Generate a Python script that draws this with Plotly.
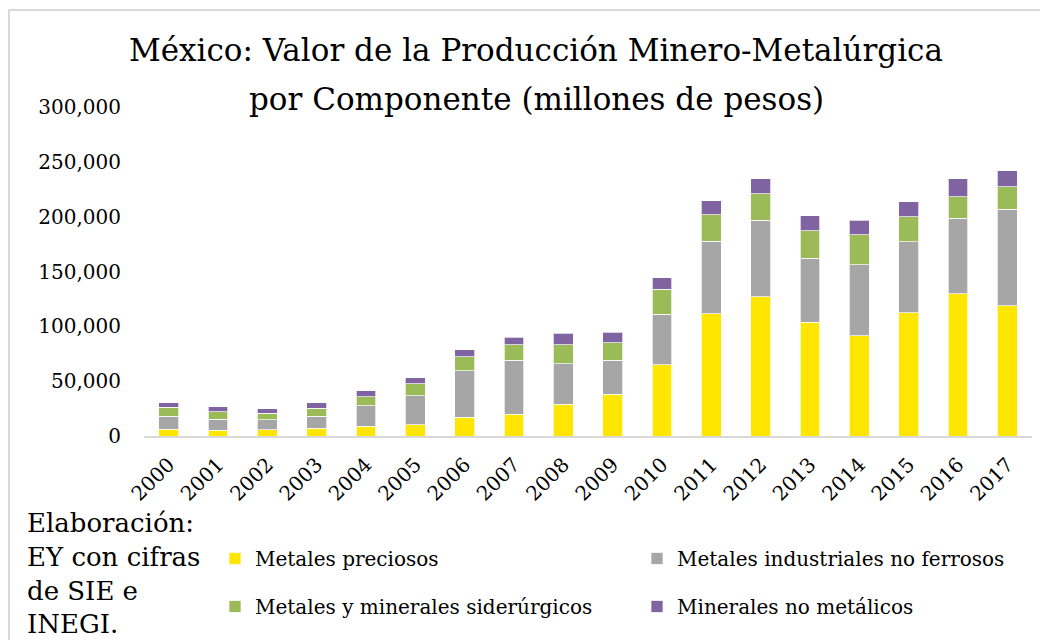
import plotly.graph_objects as go

years = [str(y) for y in range(2000, 2018)]
metales_preciosos = [6000, 5100, 5500, 6900, 8800, 10300, 17000, 19800, 28900, 38300,
                     64800, 111300, 127100, 103700, 91200, 112200, 129800, 118900]
metales_industriales = [12200, 10400, 9400, 11000, 18600, 26200, 42600, 49300, 36800, 30800,
                        46300, 66300, 69700, 58400, 65100, 64800, 68800, 88000]
metales_siderurgicos = [7900, 6700, 5800, 7300, 8500, 11200, 12800, 14000, 17300, 15800,
                        22500, 24300, 24000, 24900, 27100, 22800, 19400, 20400]
minerales_no_metalicos = [4300, 4600, 4000, 4900, 5200, 5200, 6100, 7000, 10700, 9800,
                          10700, 12500, 13700, 14000, 13400, 13700, 16400, 14600]

series = [
    ("Metales preciosos", metales_preciosos, "#FFE600", "legend"),
    ("Metales industriales no ferrosos", metales_industriales, "#A6A6A6", "legend2"),
    ("Metales y minerales siderúrgicos", metales_siderurgicos, "#9BBB59", "legend"),
    ("Minerales no metálicos", minerales_no_metalicos, "#8064A2", "legend2"),
]

# pixel geometry (page offset of 8px from body margin)
OFF = 8
W, H = 1048, 640
L, R, T, B = 136, 24, 99, 212
PW, PH = W - L - R, H - T - B

def px_x(x):
    return (x - OFF - L) / PW

def px_y(y):
    return (H - B - (y - OFF)) / PH

SERIF = "DejaVu Serif"

fig = go.Figure()
for i, (name, vals, color, leg) in enumerate(series):
    fig.add_trace(go.Bar(
        x=years, y=vals, name=name,
        marker=dict(color=color, line=dict(color="rgba(255,255,255,0.7)", width=1)),
        legend=leg, legendgroup=f"g{i}",
    ))

legend_common = dict(
    orientation="v", yanchor="top", xanchor="left",
    font=dict(family=SERIF, size=20, color="#000000"),
    bgcolor="rgba(0,0,0,0)", borderwidth=0, tracegroupgap=19,
)

fig.update_layout(
    width=W, height=H,
    margin=dict(l=L, r=R, t=T, b=B, autoexpand=False),
    barmode="stack", bargap=0.6,
    plot_bgcolor="white", paper_bgcolor="white",
    showlegend=True,
    legend=dict(x=px_x(215), y=px_y(539), **legend_common),
    legend2=dict(x=px_x(637), y=px_y(539), **legend_common),
    xaxis=dict(
        type="category", showline=True, linecolor="#D9D9D9", linewidth=2,
        showgrid=False, ticks="", tickangle=-45,
        tickfont=dict(family=SERIF, size=20, color="#000000"),
        ticklabelstandoff=7,
    ),
    yaxis=dict(
        range=[0, 300000], tickvals=[0, 50000, 100000, 150000, 200000, 250000, 300000],
        tickformat=",", showgrid=False, showline=False, zeroline=False, ticks="",
        tickfont=dict(family=SERIF, size=20, color="#000000"),
        ticklabelstandoff=22,
    ),
    shapes=[dict(
        type="rect", xref="paper", yref="paper",
        x0=px_x(9), x1=px_x(1100), y0=px_y(700), y1=px_y(10),
        line=dict(color="#D9D9D9", width=2), fillcolor="rgba(0,0,0,0)", layer="below",
    )],
    annotations=[
        dict(text="México: Valor de la Producción Minero-Metalúrgica",
             xref="paper", yref="paper", x=px_x(536), y=px_y(50),
             xanchor="center", yanchor="middle", showarrow=False,
             font=dict(family=SERIF, size=31, color="#000000")),
        dict(text="por Componente (millones de pesos)",
             xref="paper", yref="paper", x=px_x(536), y=px_y(99),
             xanchor="center", yanchor="middle", showarrow=False,
             font=dict(family=SERIF, size=31, color="#000000")),
        dict(text="Elaboración:<br>EY con cifras<br>de SIE e<br>INEGI.",
             xref="paper", yref="paper", x=px_x(25), y=px_y(506),
             xanchor="left", yanchor="top", align="left", showarrow=False,
             font=dict(family=SERIF, size=26, color="#000000")),
    ],
)

fig.write_html("out.html")
